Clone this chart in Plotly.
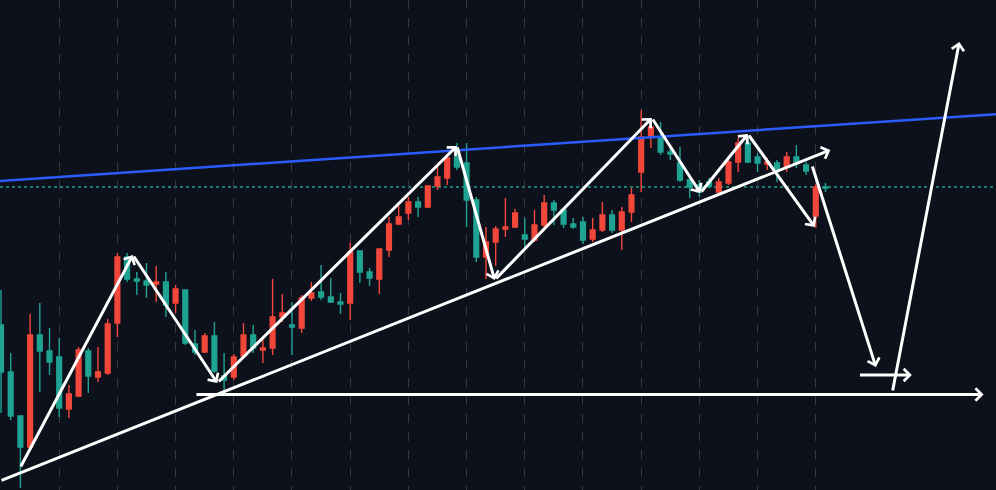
import plotly.graph_objects as go

# ---- candle data (bar index, price units) ----
bars = list(range(86))
opens = [165, 118, 74, 43, 155, 139, 133, 81, 94, 139, 113, 117, 167, 233, 211, 209, 206, 208, 187, 200,
         146, 138, 154, 114, 113, 134, 155, 140, 142, 173, 165, 162, 192, 198, 193, 188, 187, 239, 218, 211,
         240, 266, 277, 288, 283, 304, 312, 333, 327, 290, 233, 248, 261, 263, 255, 250, 265, 287, 280, 266,
         268, 251, 260, 275, 260, 278, 318, 353, 353, 338, 327, 310, 305, 308, 298, 307, 328, 347, 333, 326,
         327, 323, 333, 325, 274, 303]
highs = [200, 137, 74, 176, 187, 162, 152, 105, 143, 142, 143, 171, 237, 237, 218, 227, 224, 218, 205, 200,
         160, 157, 168, 137, 136, 167, 165, 150, 211, 196, 188, 195, 208, 225, 212, 197, 247, 239, 222, 241,
         273, 284, 293, 293, 304, 323, 333, 347, 347, 293, 263, 264, 292, 281, 272, 280, 295, 290, 283, 272,
         273, 272, 288, 280, 283, 302, 380, 370, 368, 343, 343, 312, 310, 312, 312, 334, 352, 355, 337, 332,
         330, 338, 345, 328, 306, 307]
lows = [77, 70, 2, 43, 98, 115, 73, 72, 93, 97, 108, 115, 153, 208, 195, 192, 188, 173, 177, 145,
        135, 137, 117, 100, 110, 133, 137, 127, 135, 168, 135, 157, 189, 190, 187, 176, 170, 207, 204, 196,
        233, 265, 270, 273, 282, 300, 305, 320, 263, 228, 211, 224, 253, 262, 240, 248, 262, 265, 262, 261,
        246, 248, 258, 257, 240, 268, 298, 342, 335, 330, 308, 292, 293, 302, 297, 305, 318, 327, 318, 320,
        308, 318, 322, 315, 262, 298]
closes = [118, 74, 43, 155, 139, 128, 82, 96, 140, 114, 118, 166, 233, 211, 209, 205, 208, 185, 201, 147,
          138, 154, 119, 110, 133, 155, 142, 142, 173, 177, 163, 192, 197, 193, 188, 186, 238, 218, 212, 241,
          266, 273, 288, 283, 304, 313, 332, 323, 290, 233, 248, 261, 263, 277, 251, 265, 287, 280, 266, 263,
          250, 260, 275, 260, 278, 295, 353, 363, 338, 336, 310, 303, 298, 304, 308, 328, 347, 328, 327, 328,
          321, 333, 328, 319, 303, 302]

last_price = 303
grid_bars = list(range(0, 85, 6))

# ---- drawing-tool objects (anchored in bar index / price) ----
zigzag_bars = [1.96, 13.6, 22.3, 47.0, 50.9, 67.1, 72.1, 77.0, 83.9]
zigzag_prices = [22, 235, 107, 344, 210, 372, 297, 356, 263]
support_line = [(-0.1, 9), (85.5, 340)]
resistance_line = [(-0.2, 309), (102.8, 376)]
projection_arrows = [
    ((83.6, 325), (90.2, 123)),
    ((88.4, 115), (93.9, 115)),
    ((91.9, 98), (98.8, 448)),
    ((20.0, 95.5), (101.3, 95.5)),
]

BG = "#0d111c"
RED = "#f2473a"
TEAL = "#1fa393"
WHITE = "#ffffff"

fig = go.Figure()
fig.add_trace(go.Candlestick(
    x=bars, open=opens, high=highs, low=lows, close=closes,
    increasing=dict(line=dict(color=RED, width=1.4), fillcolor=RED),
    decreasing=dict(line=dict(color=TEAL, width=1.4), fillcolor=TEAL),
    whiskerwidth=0, showlegend=False, hoverinfo="skip",
))

# last price dotted line
fig.add_shape(type="line", xref="paper", x0=0, x1=1, yref="y", y0=last_price, y1=last_price,
              line=dict(color=TEAL, width=1.5, dash="dot"), layer="below")

# resistance (blue)
(rx0, ry0), (rx1, ry1) = resistance_line
fig.add_shape(type="line", x0=rx0, y0=ry0, x1=rx1, y1=ry1,
              line=dict(color="#2a5cff", width=2.5))


def arrow(tail, tip):
    fig.add_annotation(x=tip[0], y=tip[1], ax=tail[0], ay=tail[1],
                       xref="x", yref="y", axref="x", ayref="y",
                       text="", showarrow=True, arrowhead=4, arrowsize=0.8,
                       arrowwidth=3, arrowcolor=WHITE)


arrow(support_line[0], support_line[1])
for i in range(len(zigzag_bars) - 1):
    arrow((zigzag_bars[i], zigzag_prices[i]), (zigzag_bars[i + 1], zigzag_prices[i + 1]))
for tail, tip in projection_arrows:
    arrow(tail, tip)

fig.update_layout(
    width=996, height=490,
    margin=dict(l=0, r=0, t=0, b=0),
    paper_bgcolor=BG, plot_bgcolor=BG,
    showlegend=False,
    xaxis=dict(range=[-0.103, 102.58], rangeslider=dict(visible=False),
               tickvals=grid_bars, showticklabels=False, showgrid=True,
               gridcolor="#343845", griddash="dash", gridwidth=1,
               zeroline=False, showline=False, fixedrange=True),
    yaxis=dict(range=[0, 490], showgrid=False, showticklabels=False,
               zeroline=False, showline=False, fixedrange=True),
)

fig.write_html("out.html", config={"displayModeBar": False},
               post_script="document.body.style.margin='0';document.body.style.background='" + BG + "';")
